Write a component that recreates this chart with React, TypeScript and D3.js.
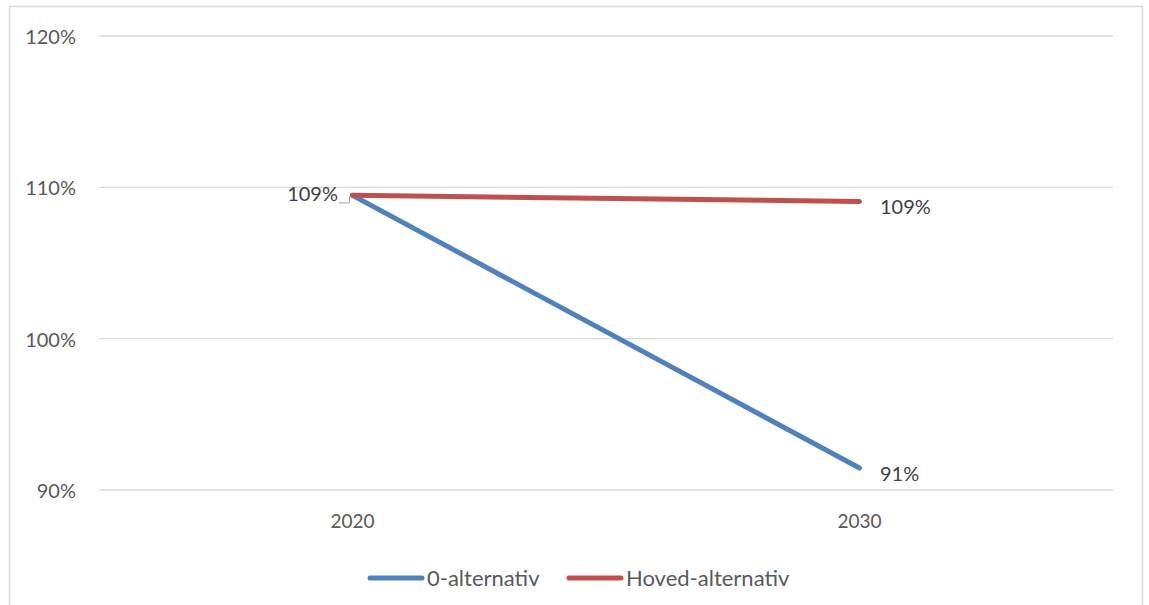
import React from "react";
import * as d3 from "d3";

const categories = ["2020", "2030"];
const nullAlt = [1.0947, 0.9145];
const hovedAlt = [1.0947, 1.0907];
const yTicks = [0.9, 1.0, 1.1, 1.2];
const seriesNames = ["0-alternativ", "Hoved-alternativ"];
const colors = ["#4F81BD", "#C0504D"];

const W = 1149;
const H = 605;
const FONT = "Lato, 'Open Sans', sans-serif";

export default function App() {
  const x = d3.scalePoint<string>().domain(categories).range([99, 1113]).padding(0.5);
  const y = d3.scaleLinear().domain([0.9, 1.2]).range([490, 36]);
  const fmt = d3.format(".0%");
  const line = d3
    .line<number>()
    .x((_, i) => x(categories[i]) as number)
    .y((d) => y(d));
  const series = [nullAlt, hovedAlt];

  return (
    <svg
      width={W}
      height={H}
      style={{ position: "absolute", left: 0, top: 0, background: "#fff" }}
      fontFamily={FONT}
    >
      <rect x={0} y={0} width={W} height={H} fill="#fff" />
      {/* chart border */}
      <path d={`M9.5,${H} V6.5 H1142.5 V${H}`} fill="none" stroke="#d9d9d9" strokeWidth={1.5} />
      {/* gridlines */}
      {yTicks.map((t) => (
        <g key={t}>
          <line x1={99} x2={1113} y1={y(t)} y2={y(t)} stroke="#d9d9d9" strokeWidth={1.3} />
          <text x={76} y={y(t) + 1} dy="0.35em" textAnchor="end" fontSize={20} fill="#595959">
            {fmt(t)}
          </text>
        </g>
      ))}
      {/* x labels */}
      {categories.map((c) => (
        <text key={c} x={x(c)} y={521} dy="0.35em" textAnchor="middle" fontSize={19} fill="#595959">
          {c}
        </text>
      ))}
      {/* lines */}
      {series.map((s, i) => (
        <path
          key={i}
          d={line(s) || ""}
          fill="none"
          stroke={colors[i]}
          strokeWidth={5}
          strokeLinecap="round"
          strokeLinejoin="round"
        />
      ))}
      {/* data labels */}
      <path
        d={`M${(x("2020") as number) - 14},${y(hovedAlt[0]) + 7.5} H${(x("2020") as number) - 3} V${y(hovedAlt[0]) + 1}`}
        fill="none"
        stroke="#a6a6a6"
        strokeWidth={1}
      />
      <text x={338} y={y(hovedAlt[0]) - 1} dy="0.35em" textAnchor="end" fontSize={20} fill="#404040">
        {fmt(hovedAlt[0])}
      </text>
      <text x={880} y={y(hovedAlt[1]) + 6} dy="0.35em" textAnchor="start" fontSize={20} fill="#404040">
        {fmt(hovedAlt[1])}
      </text>
      <text x={880} y={y(nullAlt[1]) + 6} dy="0.35em" textAnchor="start" fontSize={20} fill="#404040">
        {fmt(nullAlt[1])}
      </text>
      {/* legend */}
      {seriesNames.map((n, i) => {
        const lx = i === 0 ? 370 : 569;
        return (
          <g key={n}>
            <line x1={lx} x2={lx + 52} y1={578} y2={578} stroke={colors[i]} strokeWidth={5} strokeLinecap="round" />
            <text x={lx + 57} y={578} dy="0.35em" fontSize={22} fill="#595959">
              {n}
            </text>
          </g>
        );
      })}
    </svg>
  );
}
